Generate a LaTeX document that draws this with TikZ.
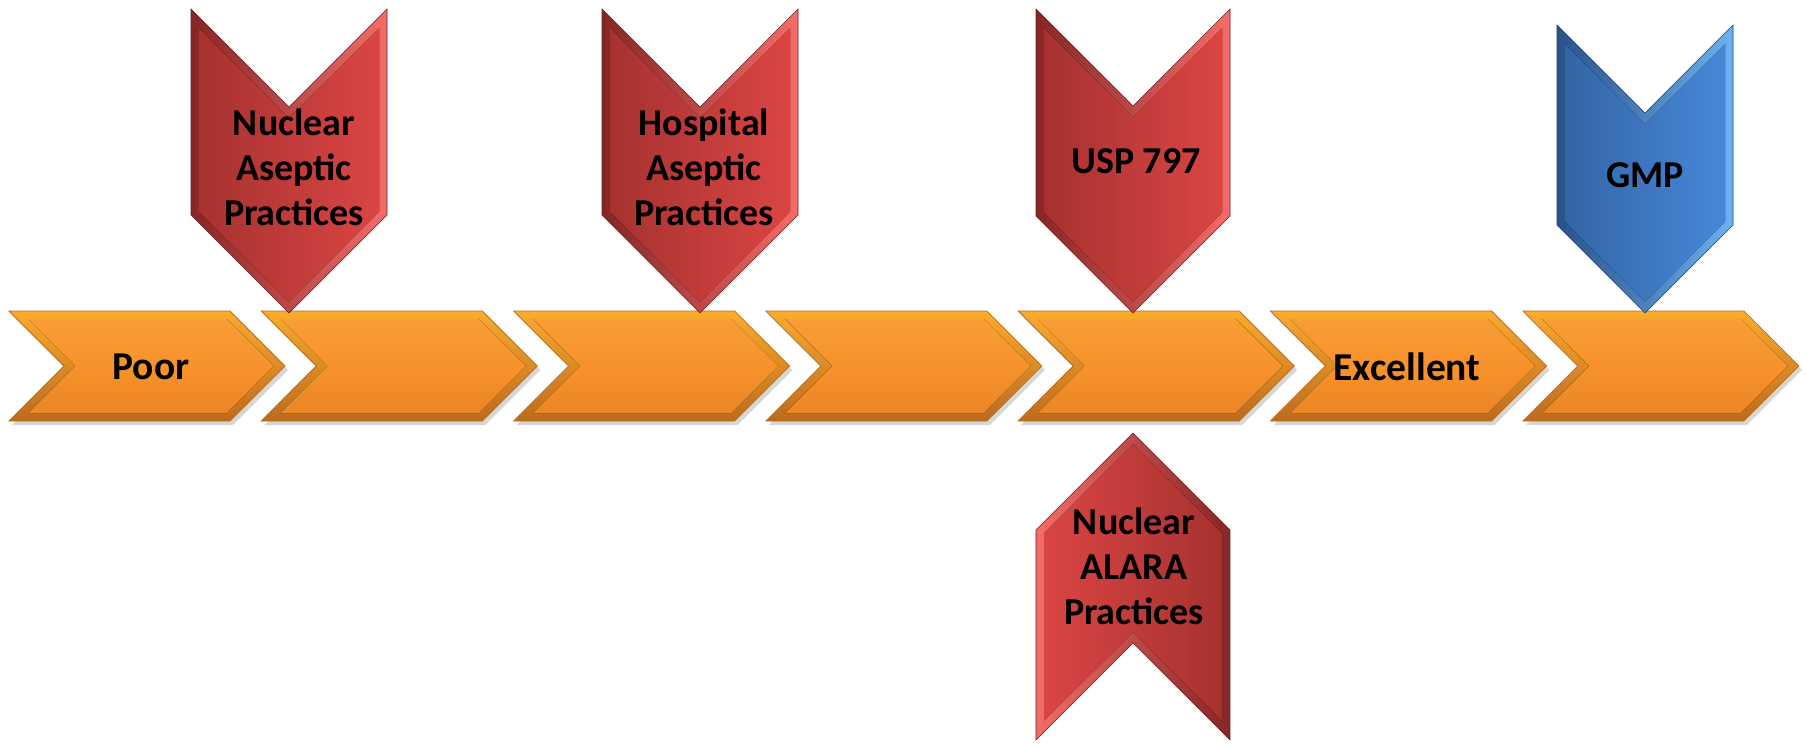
\documentclass[tikz,border=0pt]{standalone}
\usepackage{fontspec}
\setmainfont{Carlito}
\usetikzlibrary{positioning}
\definecolor{tlorangehi}{HTML}{F99D35}
\definecolor{tlorange}{HTML}{F7922B}
\definecolor{tlorangelo}{HTML}{EA8624}
\definecolor{tlorangeedge}{HTML}{C06C1C}
\definecolor{tlredlo}{HTML}{A63230}
\definecolor{tlredhi}{HTML}{DA4543}
\definecolor{tlreddark}{HTML}{862624}
\definecolor{tlredlight}{HTML}{F56C68}
\definecolor{tlbluelo}{HTML}{3465A6}
\definecolor{tlbluehi}{HTML}{4688D8}
\definecolor{tlbluedark}{HTML}{2A5188}
\definecolor{tlbluelight}{HTML}{6CB2F2}
\newcommand\tllabel{\fontsize{39.5}{45}\selectfont\bfseries}
\newcommand\tlflaglabel{\fontsize{38}{45}\selectfont\bfseries}

\begin{document}
\begin{tikzpicture}[
  x=1pt, y=-1pt,
  lbl/.style={font=\tllabel, align=center, text=black, inner sep=0pt},
  flaglbl/.style={lbl, font=\tlflaglabel},
  stagebevel/.style={top color=tlorangehi!85!yellow, bottom color=tlorangelo!80!black,
                     draw=tlorangeedge, line width=0.8pt},
  stageface/.style={top color=tlorangehi, bottom color=tlorangelo, middle color=tlorange},
  redset/.style={flagbevel/.style={left color=tlreddark, right color=tlredlight,
                                   draw=tlreddark!80!black, line width=0.6pt},
                 flagface/.style={left color=tlredlo, right color=tlredhi}},
  redsetup/.style={flagbevel/.style={left color=tlredlight, right color=tlreddark,
                                     draw=tlreddark!80!black, line width=0.6pt},
                   flagface/.style={left color=tlredhi, right color=tlredlo}},
  blueset/.style={flagbevel/.style={left color=tlbluedark, right color=tlbluelight,
                                    draw=tlbluedark!80!black, line width=0.6pt},
                  flagface/.style={left color=tlbluelo, right color=tlbluehi}},
  pics/stage/.style={code={
    \fill[black, opacity=0.16] (3,-51) -- (224,-51) -- (279,4) -- (224,59) -- (3,59) -- (58,4) -- cycle;
    \path[stagebevel] (0,-55) -- (221,-55) -- (276,0) -- (221,55) -- (0,55) -- (55,0) -- cycle;
    \fill[stageface] (19.3,-47) -- (217.7,-47) -- (264.7,0) -- (217.7,47) -- (19.3,47) -- (66.3,0) -- cycle;
  }},
  pics/flag/.style n args={2}{code={
    \path[flagbevel] (-#1,0) -- (0,#1) -- (#1,0) -- (#1,#2-#1) -- (0,#2) -- (-#1,#2-#1) -- cycle;
    \fill[flagface] (-#1+8,19.3) -- (0,#1+11.3) -- (#1-8,19.3) -- (#1-8,#2-#1-3.3)
                    -- (0,#2-11.3) -- (-#1+8,#2-#1-3.3) -- cycle;
  }},
]
\useasboundingbox (0,0) rectangle (1806,744);

%% ---- Scale row: Poor ... Excellent ----
\pic at (9,366)      {stage};
\pic at (261.3,366)  {stage};
\pic at (513.6,366)  {stage};
\pic at (765.9,366)  {stage};
\pic at (1018.2,366) {stage};
\pic at (1270.5,366) {stage};
\pic at (1522.8,366) {stage};
\node[lbl] (poor) at (151,367)  {Poor};
\node[lbl] (exc)  at (1407,367) {Excellent};

%% ---- Practices above the scale ----
\pic[redset]  at (289,9)   {flag={98}{304}};
\pic[redset]  at (700,9)   {flag={98}{304}};
\pic[redset]  at (1133,9)  {flag={97}{304}};
\pic[blueset] at (1645,25) {flag={88}{288}};
\node[flaglbl] (nap) at (294,167)  {Nuclear\\Aseptic\\Practices};
\node[flaglbl] (hap) at (704,167)  {Hospital\\Aseptic\\Practices};
\node[flaglbl] (usp) at (1136,161) {USP 797};
\node[flaglbl] (gmp) at (1645,175) {GMP};

%% ---- Practice below the scale ----
\pic[redsetup, yscale=-1] at (1133,740) {flag={97}{307}};
\node[flaglbl] (alara) at (1134,566) {Nuclear\\ALARA\\Practices};

\end{tikzpicture}
\end{document}
